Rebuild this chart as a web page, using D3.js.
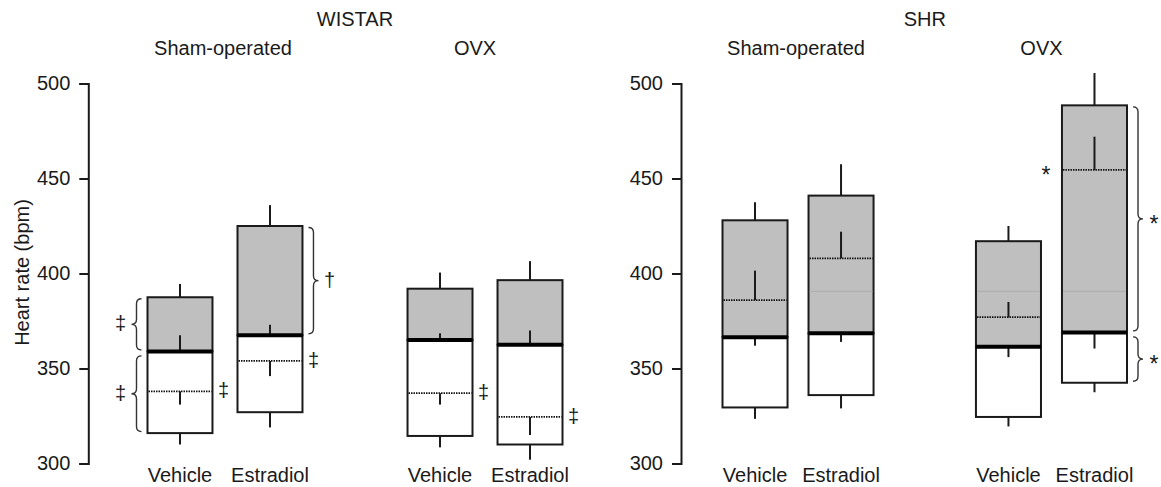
<!DOCTYPE html>
<html>
<head>
<meta charset="utf-8">
<script src="https://cdn.jsdelivr.net/npm/d3@7"></script>
<style>
    body { margin: 0; background: #fff; }
    svg text { font-family: "Liberation Sans", Arial, Helvetica, sans-serif; fill: #1a1a1a; }
    .axis path, .axis line { stroke: #1a1a1a; stroke-width: 2; }
    .axis text { font-size: 20px; }
</style>
</head>
<body>
<svg id="chart" width="1161" height="487"></svg>
<script>
// groups and labels
const strains = ['WISTAR', 'SHR'];
const surgeries = ['Sham-operated', 'OVX'];
const treatments = ['Vehicle', 'Estradiol'];
const yTicks = [300, 350, 400, 450, 500];

// one value per bar, order: strain > surgery > treatment
const boxBottom = [316, 327, 314.5, 310, 329.5, 336, 324.5, 342.5];
const bottomErr = [6, 8, 6, 8, 6, 7, 5, 5];
const thickLine = [359, 367.5, 365, 362.5, 366.5, 368.5, 361.5, 369];
const thickErr  = [8.5, 5.5, 3.5, 7.5, 4.5, 4.5, 5.5, 8.5];
const dottedLine = [338, 354, 337, 324.5, 386, 408, 377, 454.5];
const dottedErr  = [7, 8, 6, 9.5, 15.5, 14, 8, 17.5];
const boxTop = [387.5, 425, 392, 396.5, 428, 441, 417, 488.5];
const topErr = [7, 11, 8.5, 10, 9.5, 16.5, 8, 17];
const faintLine = [null, null, null, null, null, 390.6, 390.6, 390.6];

// significance marks
const braces = [
    {bar: 0, part: 'gray', side: 'left', mark: '‡'},
    {bar: 0, part: 'white', side: 'left', mark: '‡'},
    {bar: 1, part: 'gray', side: 'right', mark: '†'},
    {bar: 7, part: 'gray', side: 'right', mark: '*'},
    {bar: 7, part: 'white', side: 'right', mark: '*'}
];
const dottedMarks = [
    {bar: 0, side: 'right', mark: '‡'},
    {bar: 1, side: 'right', mark: '‡'},
    {bar: 2, side: 'right', mark: '‡'},
    {bar: 3, side: 'right', mark: '‡'},
    {bar: 7, side: 'left', mark: '*'}
];

const bars = [];
strains.forEach(st => surgeries.forEach(su => treatments.forEach(tr => {
    let i = bars.length;
    bars.push({
        strain: st, surgery: su, treatment: tr,
        bottom: boxBottom[i], bottomErr: bottomErr[i],
        thick: thickLine[i], thickErr: thickErr[i],
        dotted: dottedLine[i], dottedErr: dottedErr[i],
        top: boxTop[i], topErr: topErr[i],
        faint: faintLine[i]
    });
})));

// layout per panel
const panels = [
    {strain: 'WISTAR', axisX: 88.3, range: [147.5, 562.5], innerPad: 0.278},
    {strain: 'SHR', axisX: 681, range: [722.5, 1127], innerPad: 0.244}
];
const headerShift = {'Sham-operated': -2, 'OVX': -10};

const svg = d3.select('#chart');
const y = d3.scaleLinear().domain([300, 500]).range([463.5, 83.5]);
const gray = '#bfbfbf';
const ink = '#1a1a1a';

function bracePath(x, y0, y1, dir) {
    const w = 5;
    const b = x + dir * w;
    const t = x + dir * 2 * w;
    const ym = (y0 + y1) / 2;
    const r = Math.min(w, (y1 - y0) / 4);
    return `M${x},${y0} Q${b},${y0} ${b},${y0 + r} L${b},${ym - r} Q${b},${ym} ${t},${ym}` +
           ` Q${b},${ym} ${b},${ym + r} L${b},${y1 - r} Q${b},${y1} ${x},${y1}`;
}

function markDy(m) {
    return m === '*' ? '0.58em' : '0.3em';
}
function markSize(m) {
    return m === '*' ? 23 : 20;
}

panels.forEach(p => {
    const outer = d3.scaleBand().domain(surgeries).range(p.range).paddingInner(0.404);
    const inner = d3.scaleBand().domain(treatments).range([0, outer.bandwidth()]).paddingInner(p.innerPad);

    const g = svg.append('g').attr('class', 'panel');

    // axis
    g.append('g')
        .attr('class', 'axis')
        .attr('transform', `translate(${p.axisX},0)`)
        .call(d3.axisLeft(y).tickValues(yTicks).tickSize(9).tickPadding(9));

    // headers
    g.append('text')
        .attr('x', (p.range[0] + p.range[1]) / 2)
        .attr('y', 26)
        .attr('text-anchor', 'middle')
        .style('font-size', '20px')
        .text(p.strain);

    g.selectAll('.surgery')
        .data(surgeries)
        .join('text')
        .attr('class', 'surgery')
        .attr('x', d => outer(d) + outer.bandwidth() / 2 + headerShift[d])
        .attr('y', 55)
        .attr('text-anchor', 'middle')
        .style('font-size', '20px')
        .text(d => d);

    const pb = bars.filter(b => b.strain === p.strain);
    pb.forEach(b => {
        b.x0 = outer(b.surgery) + inner(b.treatment);
        b.x1 = b.x0 + inner.bandwidth();
        b.cx = (b.x0 + b.x1) / 2;
    });

    // x labels
    g.selectAll('.xlab')
        .data(pb)
        .join('text')
        .attr('class', 'xlab')
        .attr('x', d => d.cx)
        .attr('y', 482)
        .attr('text-anchor', 'middle')
        .style('font-size', '20px')
        .text(d => d.treatment);

    const bg = g.selectAll('.bar')
        .data(pb)
        .join('g')
        .attr('class', 'bar');

    // whiskers: bottom down, top up, thick/dotted pointing away from each other
    const whisk = d => {
        const up = d.dotted > d.thick;
        return [
            [d.bottom, d.bottom - d.bottomErr],
            [d.top, d.top + d.topErr],
            [d.thick, up ? d.thick - d.thickErr : d.thick + d.thickErr],
            [d.dotted, up ? d.dotted + d.dottedErr : d.dotted - d.dottedErr]
        ].map(w => ({cx: d.cx, v0: w[0], v1: w[1]}));
    };

    bg.append('rect')
        .attr('x', d => d.x0)
        .attr('width', d => d.x1 - d.x0)
        .attr('y', d => y(d.thick))
        .attr('height', d => y(d.bottom) - y(d.thick))
        .attr('fill', '#fff')
        .attr('stroke', ink)
        .attr('stroke-width', 2);

    bg.append('rect')
        .attr('x', d => d.x0)
        .attr('width', d => d.x1 - d.x0)
        .attr('y', d => y(d.top))
        .attr('height', d => y(d.thick) - y(d.top))
        .attr('fill', gray)
        .attr('stroke', ink)
        .attr('stroke-width', 2);

    bg.filter(d => d.faint !== null)
        .append('line')
        .attr('x1', d => d.x0 + 1)
        .attr('x2', d => d.x1 - 1)
        .attr('y1', d => y(d.faint))
        .attr('y2', d => y(d.faint))
        .attr('stroke', '#adadad')
        .attr('stroke-width', 1);

    bg.append('line')
        .attr('x1', d => d.x0 + 1)
        .attr('x2', d => d.x1 - 1)
        .attr('y1', d => y(d.dotted))
        .attr('y2', d => y(d.dotted))
        .attr('stroke', '#111')
        .attr('stroke-width', 1.8)
        .attr('stroke-dasharray', '1.5,1');

    bg.selectAll('.whisker')
        .data(d => whisk(d))
        .join('line')
        .attr('class', 'whisker')
        .attr('x1', d => d.cx)
        .attr('x2', d => d.cx)
        .attr('y1', d => y(d.v0))
        .attr('y2', d => y(d.v1))
        .attr('stroke', ink)
        .attr('stroke-width', 2);

    bg.append('line')
        .attr('x1', d => d.x0)
        .attr('x2', d => d.x1)
        .attr('y1', d => y(d.thick))
        .attr('y2', d => y(d.thick))
        .attr('stroke', '#000')
        .attr('stroke-width', 4);
});

// braces with marks
braces.forEach(br => {
    const b = bars[br.bar];
    const dir = br.side === 'left' ? -1 : 1;
    const edge = dir < 0 ? b.x0 : b.x1;
    const hi = br.part === 'gray' ? b.top : b.thick;
    const lo = br.part === 'gray' ? b.thick : b.bottom;
    const y0 = y(hi) + 1.5;
    const y1 = y(lo) - 1.5;
    const inset = br.part === 'gray' ? 0 : 3;
    svg.append('path')
        .attr('d', bracePath(edge + dir * 6, y0 + inset, y1, dir))
        .attr('fill', 'none')
        .attr('stroke', '#333')
        .attr('stroke-width', 1.4);
    svg.append('text')
        .attr('x', edge + dir * 27)
        .attr('y', (y0 + inset + y1) / 2)
        .attr('dy', markDy(br.mark))
        .attr('text-anchor', 'middle')
        .style('font-size', markSize(br.mark) + 'px')
        .text(br.mark);
});

dottedMarks.forEach(m => {
    const b = bars[m.bar];
    const x = m.side === 'left' ? b.x0 - 16 : b.x1 + 11;
    svg.append('text')
        .attr('x', x)
        .attr('y', y(b.dotted))
        .attr('dy', markDy(m.mark))
        .attr('text-anchor', 'middle')
        .style('font-size', markSize(m.mark) + 'px')
        .text(m.mark);
});

// y label
svg.append('text')
    .attr('transform', `translate(29,${y(400) - 1}) rotate(-90)`)
    .attr('text-anchor', 'middle')
    .style('font-size', '20px')
    .text('Heart rate (bpm)');
</script>
</body>
</html>
